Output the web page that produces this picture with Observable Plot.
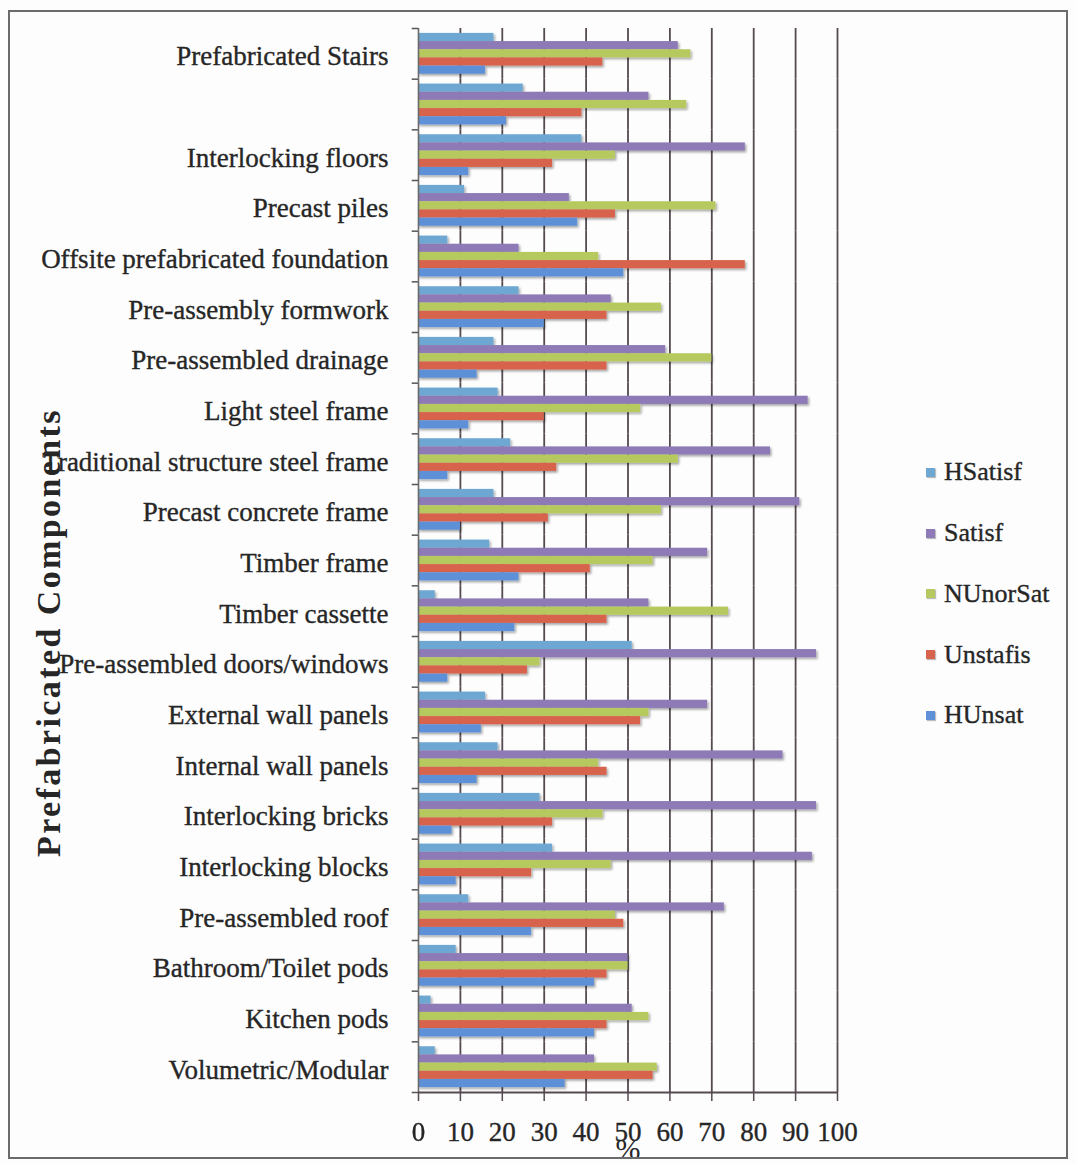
<!DOCTYPE html>
<html>
<head>
<meta charset="utf-8">
<script src="https://cdn.jsdelivr.net/npm/d3@7"></script>
<script src="https://cdn.jsdelivr.net/npm/@observablehq/plot@0.6"></script>
<style>
  html, body { margin: 0; padding: 0; background: #fff; }
  #wrap { position: relative; width: 1076px; height: 1165px; overflow: hidden; background: #fdfdfd; }
  #border { position: absolute; left: 8px; top: 10px; width: 1060px; height: 1149px; border: 2px solid #6b6b6b; box-sizing: border-box; pointer-events: none; }
  #legend { position: absolute; left: 926px; top: 442px; font-family: "Liberation Serif", "DejaVu Serif", serif; font-size: 26px; color: #262626; -webkit-text-stroke: 0.35px #262626; }
  #legend .item { display: flex; align-items: center; height: 60.75px; }
  #legend .sw { width: 9px; height: 9px; margin-right: 9px; box-shadow: 1px 1px 1px rgba(0,0,0,0.25); }
</style>
</head>
<body>
<div id="wrap">
  <svg width="0" height="0" style="position:absolute">
    <defs>
      <filter id="barShadow" x="-5%" y="-50%" width="110%" height="250%">
        <feDropShadow dx="1.5" dy="1.8" stdDeviation="1.1" flood-color="#000" flood-opacity="0.35"/>
      </filter>
    </defs>
  </svg>
  <div id="chart"></div>
  <div id="legend"></div>
  <div id="border"></div>
</div>
<script>
// Prefabricated components, top to bottom (the second row carries no label)
const categories = [
  "Prefabricated Stairs",
  "unlabelled",
  "Interlocking floors",
  "Precast piles",
  "Offsite prefabricated foundation",
  "Pre-assembly formwork",
  "Pre-assembled drainage",
  "Light steel frame",
  "Traditional structure steel frame",
  "Precast concrete frame",
  "Timber frame",
  "Timber cassette",
  "Pre-assembled doors/windows",
  "External wall panels",
  "Internal wall panels",
  "Interlocking bricks",
  "Interlocking blocks",
  "Pre-assembled roof",
  "Bathroom/Toilet pods",
  "Kitchen pods",
  "Volumetric/Modular"
];

// Satisfaction levels, drawn top to bottom within each component
const series = ["HSatisf", "Satisf", "NUnorSat", "Unstafis", "HUnsat"];
const seriesColors = ["#6ea8d2", "#8d7ab6", "#b6c95e", "#d8644d", "#5d90d6"];

// Percentage of respondents per level, one value per component (same order as categories)
const hSatisf  = [18, 25, 39, 11,  7, 24, 18, 19, 22, 18, 17,  4, 51, 16, 19, 29, 32, 12,  9,  3,  4];
const satisf   = [62, 55, 78, 36, 24, 46, 59, 93, 84, 91, 69, 55, 95, 69, 87, 95, 94, 73, 50, 51, 42];
const nUnorSat = [65, 64, 47, 71, 43, 58, 70, 53, 62, 58, 56, 74, 29, 55, 43, 44, 46, 47, 50, 55, 57];
const unstafis = [44, 39, 32, 47, 78, 45, 45, 30, 33, 31, 41, 45, 26, 53, 45, 32, 27, 49, 45, 45, 56];
const hUnsat   = [16, 21, 12, 38, 49, 30, 14, 12,  7, 10, 24, 23,  7, 15, 14,  8,  9, 27, 42, 42, 35];

const xTicks = [0, 10, 20, 30, 40, 50, 60, 70, 80, 90, 100];

const valuesBySeries = [hSatisf, satisf, nUnorSat, unstafis, hUnsat];
const rows = [];
categories.forEach((c, i) => {
  series.forEach((s, j) => rows.push({component: c, level: s, value: valuesBySeries[j][i]}));
});

const W = 1076, H = 1165;
const mTop = 28, mBottom = 73, mLeft = 418, mRight = 239;
const yPadOuter = 0.6;
const facetH = (H - mTop - mBottom) / categories.length;
const step = facetH / (series.length + 2 * yPadOuter);
// distance from the centre of the first/last level band to the facet edge
const edgeOffset = step * yPadOuter + step / 2;

const font = "'Liberation Serif', 'DejaVu Serif', serif";

const chart = Plot.plot({
  width: W,
  height: H,
  marginTop: mTop,
  marginBottom: mBottom,
  marginLeft: mLeft,
  marginRight: mRight,
  style: {fontFamily: font, fontSize: "27px", color: "#262626", background: "transparent", overflow: "visible"},
  x: {domain: [0, 100], axis: null},
  y: {domain: series, axis: null, paddingInner: 0, paddingOuter: yPadOuter, round: false},
  fy: {domain: categories, padding: 0, axis: null, round: false},
  color: {domain: series, range: seriesColors},
  marks: [
    // vertical gridlines
    Plot.ruleX(xTicks.slice(1), {stroke: "#544a50", strokeWidth: 1.8}),
    // value bars
    Plot.barX(rows, {fy: "component", y: "level", x: "value", fill: "level"}),
    // category axis line
    Plot.ruleX([0], {stroke: "#6a6a6a", strokeWidth: 1.6}),
    // tick marks on the category axis at the top of every component
    Plot.ruleY(categories, {fy: d => d, y: () => series[0], x1: -1.5, x2: 0, dy: -edgeOffset, stroke: "#555", strokeWidth: 1.5}),
    Plot.ruleY([categories[categories.length - 1]], {fy: d => d, y: () => series[series.length - 1], x1: -1.5, x2: 0, dy: edgeOffset, stroke: "#555", strokeWidth: 1.5}),
    // value axis line
    Plot.ruleY([categories[categories.length - 1]], {fy: d => d, y: () => series[series.length - 1], x1: 0, x2: 100, dy: edgeOffset, stroke: "#544a50", strokeWidth: 1.8}),
    Plot.axisFy({
      anchor: "left",
      tickSize: 0,
      tickPadding: 30,
      fontSize: 27,
      dy: 3,
      tickFormat: d => d === "unlabelled" ? "" : d,
      label: "Prefabricated Components",
      labelAnchor: "center",
      labelOffset: 383,
      labelArrow: "none"
    }),
    Plot.axisX(xTicks, {
      anchor: "bottom",
      tickSize: 9,
      tickPadding: 20,
      stroke: "#544a50",
      strokeWidth: 1.5,
      fontSize: 27,
      tickFormat: d => d,
      label: "%",
      labelAnchor: "center",
      labelOffset: 66,
      labelArrow: "none"
    })
  ]
});

document.getElementById("chart").appendChild(chart);

const svg = d3.select(chart);
// soft drop shadow under the bars
svg.selectAll('g[aria-label="bar"]').attr("filter", "url(#barShadow)");

// slightly heavier text strokes for the tick labels
svg.selectAll('g[aria-label="fy-axis tick label"] text, g[aria-label="x-axis tick label"] text')
  .attr("stroke", "#262626").attr("stroke-width", 0.35);

// axis titles
svg.selectAll('g[aria-label="fy-axis label"] text')
  .attr("font-weight", "bold").attr("font-size", 34).attr("letter-spacing", 2.4).attr("dx", -72);
svg.selectAll('g[aria-label="x-axis label"] text')
  .attr("font-size", 30);

// legend
const legend = d3.select("#legend");
series.forEach((s, i) => {
  const item = legend.append("div").attr("class", "item");
  item.append("div").attr("class", "sw").style("background", seriesColors[i]);
  item.append("span").text(s);
});
</script>
</body>
</html>
